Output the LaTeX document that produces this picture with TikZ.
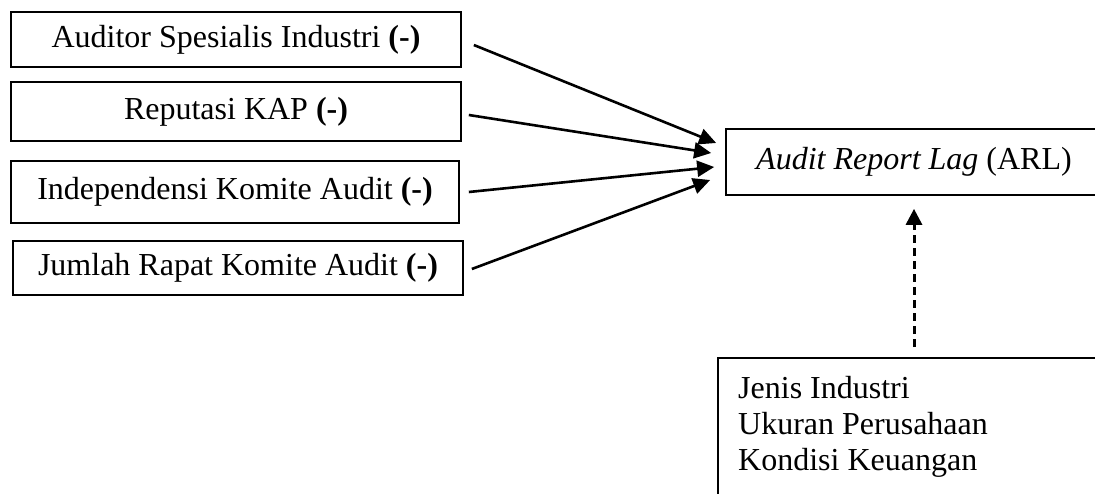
\documentclass[tikz,border=0pt]{standalone}
\usepackage{fontspec}
\setmainfont{Liberation Serif}
\usetikzlibrary{arrows.meta}
\begin{document}
\begin{tikzpicture}[x=1pt,y=-1pt,
  varbox/.style={draw,line width=1.7pt,inner sep=0pt,font=\fontsize{32}{36}\selectfont},
  link/.style={line width=2.6pt,-{Triangle[length=17pt,width=16pt]}},
  dlink/.style={line width=3pt,dash pattern=on 8pt off 5pt,-{Triangle[length=16pt,width=16pt]}}]
\useasboundingbox (0,0) rectangle (1095,494);
\clip (0,0) rectangle (1095,494);
\node[varbox,minimum width=450pt,minimum height=55pt] (b1) at (236,39.5) {Auditor Spesialis Industri \textbf{(-)}};
\node[varbox,minimum width=450pt,minimum height=59pt] (b2) at (236,111.5) {Reputasi KAP \textbf{(-)}};
\node[varbox,minimum width=448pt,minimum height=62pt] (b3) at (235,192) {Independensi Komite Audit \textbf{(-)}};
\node[varbox,minimum width=450pt,minimum height=54pt] (b4) at (238,268) {Jumlah Rapat Komite Audit \textbf{(-)}};
\node[varbox,minimum width=376pt,minimum height=66pt] (arl) at (914,162) {\textit{Audit Report Lag} (ARL)};
\node[varbox,anchor=north west,minimum width=420pt,minimum height=200pt] (ctrl) at (717,357) {};
\node[anchor=north west,inner sep=0pt,align=left,font=\fontsize{32}{36}\selectfont] (ctrltext) at (738,376) {Jenis Industri\\Ukuran Perusahaan\\Kondisi Keuangan};
\draw[link] ([xshift=12pt,yshift=-5.5pt]b1.east) -- ([xshift=-9pt,yshift=19pt]arl.west);
\draw[link] ([xshift=7pt,yshift=-3.5pt]b2.east) -- ([xshift=-14pt,yshift=9pt]arl.west);
\draw[link] ([xshift=9pt]b3.east) -- ([xshift=-11pt,yshift=-5pt]arl.west);
\draw[link] ([xshift=8pt,yshift=-1pt]b4.east) -- ([xshift=-15pt,yshift=-18pt]arl.west);
\draw[dlink] ([yshift=10pt]ctrl.north -| arl.south) -- ([yshift=-13pt]arl.south);
\end{tikzpicture}
\end{document}
